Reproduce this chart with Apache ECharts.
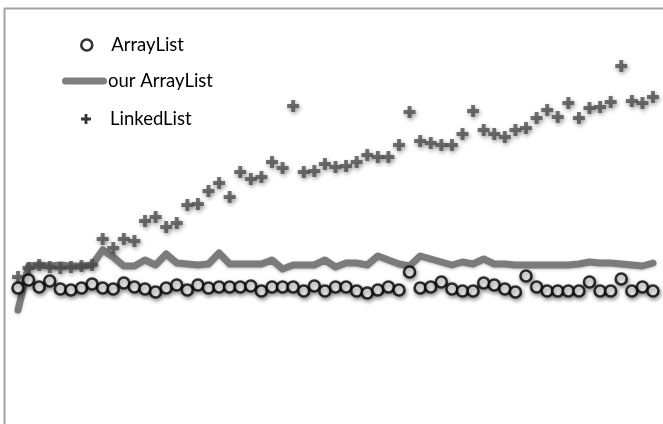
<!DOCTYPE html>
<html>
<head>
<meta charset="utf-8">
<script src="https://cdn.jsdelivr.net/npm/echarts@6/dist/echarts.min.js"></script>
<style>
  html, body { margin: 0; padding: 0; background: #fff; }
  #main { width: 663px; height: 424px; }
</style>
</head>
<body>
<div id="main"></div>
<script>
// 横轴：61 个采样点
const categories = ['1','2','3','4','5','6','7','8','9','10','11','12','13','14','15','16','17','18','19','20',
  '21','22','23','24','25','26','27','28','29','30','31','32','33','34','35','36','37','38','39','40',
  '41','42','43','44','45','46','47','48','49','50','51','52','53','54','55','56','57','58','59','60','61'];

// 三条数据
const arrayList = [136,144,137,143,135,134,136,140,136,135,141,137,135,132,136,139,134,139,136,137,
  137,137,138,133,137,137,137,133,138,133,137,137,133,131,134,137,134,152,136,137,
  142,135,133,133,141,139,135,132,148,137,133,133,133,133,142,133,133,145,133,137,133];

const ourArrayList = [114,158,159,158,159,158,158,159,174,167,158,158,164,159,170,161,160,159,160,171,
  160,160,160,160,164,155,159,159,159,164,157,161,161,159,168,164,160,158,168,165,
  162,159,162,160,165,160,160,159,159,159,159,159,159,160,162,161,161,160,159,158,161];

const linkedList = [147,156,159,157,156,157,158,159,185,176,185,183,203,207,197,201,219,220,233,241,
  227,252,245,247,262,256,318,252,253,260,257,258,262,269,267,267,279,312,283,281,
  279,279,290,313,294,290,287,294,296,306,314,307,321,306,316,317,322,358,323,321,327];

const plusPath = 'path://M3.4,0H6.6V3.4H10V6.6H6.6V10H3.4V6.6H0V3.4H3.4Z';
const legendPlus = 'path://M3.6,0H6.4V3.6H10V6.4H6.4V10H3.6V6.4H0V3.6H3.6Z';
const capsulePath = 'path://M3.5,0H41.5A3.5,3.5 0 0 1 41.5,7H3.5A3.5,3.5 0 0 1 3.5,0Z';

let myChart = echarts.init(document.getElementById('main'));
myChart.setOption({
  backgroundColor: '#fff',
  animation: false,
  // 外框
  graphic: [{
    type: 'rect',
    shape: { x: 4.5, y: 8.5, width: 720, height: 500 },
    style: { fill: 'none', stroke: '#a3a3a3', lineWidth: 2 },
    silent: true
  }],
  legend: [
    {
      data: [{ name: 'ArrayList', icon: 'circle', itemStyle: { color: '#fff', borderColor: '#000', borderWidth: 2.6, shadowBlur: 0 } }],
      left: 80, top: 35, padding: 0,
      itemWidth: 11, itemHeight: 11,
      textStyle: { fontFamily: 'Lato', fontSize: 18.5, color: '#000', lineHeight: 20, padding: [0, 0, 0, 14] }
    },
    {
      data: [{ name: 'our ArrayList', icon: capsulePath, itemStyle: { color: '#7f7f7f' } }],
      left: 62, top: 71, padding: 0,
      itemWidth: 45, itemHeight: 7,
      textStyle: { fontFamily: 'Lato', fontSize: 18.5, color: '#000', lineHeight: 20, padding: [0, 0, 0, -4] }
    },
    {
      data: [{ name: 'LinkedList', icon: legendPlus, itemStyle: { color: '#000', shadowBlur: 0 } }],
      left: 81, top: 109, padding: 0,
      itemWidth: 10, itemHeight: 10,
      textStyle: { fontFamily: 'Lato', fontSize: 18.5, color: '#000', lineHeight: 20, padding: [0, 0, 0, 14] }
    }
  ],
  grid: { left: 18, right: 10, top: 8, bottom: 0 },
  xAxis: {
    type: 'category',
    data: categories,
    boundaryGap: false,
    show: false
  },
  yAxis: {
    type: 'value',
    min: 0,
    max: 416,
    show: false
  },
  series: [
    {
      name: 'our ArrayList',
      type: 'line',
      data: ourArrayList,
      symbol: 'none',
      z: 2,
      lineStyle: {
        color: '#7b7b7b', width: 7, cap: 'round', join: 'round',
        shadowColor: 'rgba(0,0,0,0.25)', shadowBlur: 3, shadowOffsetY: 1
      },
      itemStyle: { color: '#7b7b7b' }
    },
    {
      name: 'LinkedList',
      type: 'scatter',
      data: linkedList,
      symbol: plusPath,
      symbolSize: 12,
      z: 3,
      itemStyle: {
        color: '#4f4f4f',
        shadowColor: 'rgba(0,0,0,0.5)', shadowBlur: 4, shadowOffsetX: 1, shadowOffsetY: 2
      }
    },
    {
      name: 'ArrayList',
      type: 'scatter',
      data: arrayList,
      symbol: 'circle',
      symbolSize: 11,
      z: 4,
      itemStyle: {
        color: '#fff', borderColor: '#000', borderWidth: 2.6,
        shadowColor: 'rgba(0,0,0,0.5)', shadowBlur: 4, shadowOffsetX: 1, shadowOffsetY: 2
      }
    }
  ]
});
</script>
</body>
</html>
